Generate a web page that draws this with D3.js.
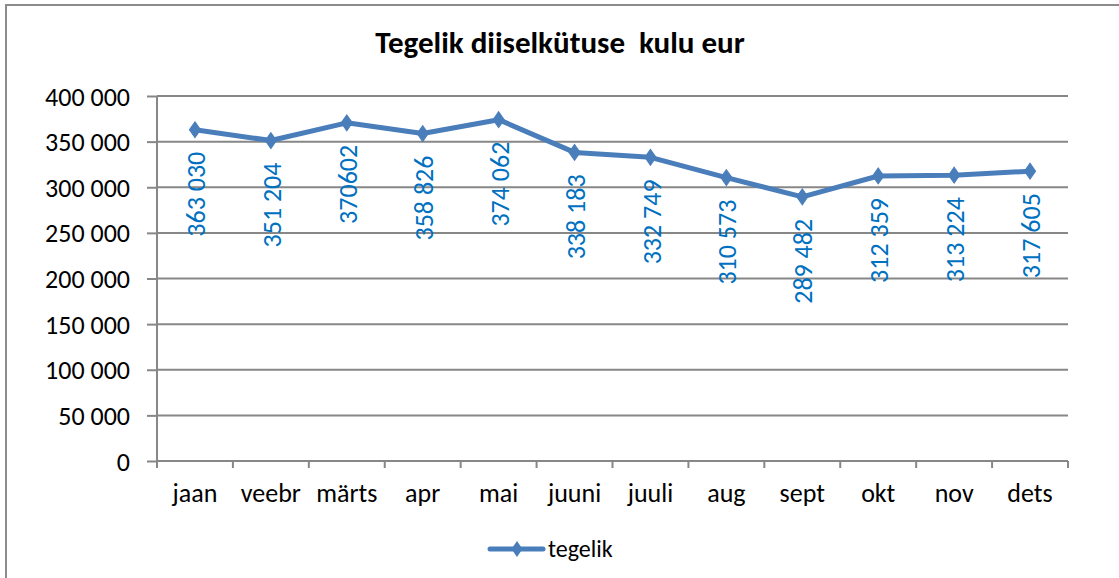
<!DOCTYPE html>
<html>
<head>
<meta charset="utf-8">
<script src="https://cdn.jsdelivr.net/npm/d3@7"></script>
<style>
html,body{margin:0;padding:0;background:#fff;}
svg{display:block;}
text{font-family:Carlito, Calibri, Lato, sans-serif;}
</style>
</head>
<body>
<svg id="chart" width="1119" height="578"></svg>
<script>
const title = "Tegelik diiselkütuse  kulu eur";
const categories = ["jaan","veebr","märts","apr","mai","juuni","juuli","aug","sept","okt","nov","dets"];
const values = [363030, 351204, 370602, 358826, 374062, 338183, 332749, 310573, 289482, 312359, 313224, 317605];
const labels = ["363 030","351 204","370602","358 826","374 062","338 183","332 749","310 573","289 482","312 359","313 224","317 605"];
const yTicks = [0,50000,100000,150000,200000,250000,300000,350000,400000];
const seriesName = "tegelik";

const svg = d3.select("#chart");
const m = {left:157, right:1068, top:96, bottom:461};
const lineColor = "#4A7EBB", gridColor = "#878787", labelColor = "#0070C0";

// outer frame
svg.append("rect").attr("x",6).attr("y",5).attr("width",1130).attr("height",600)
  .attr("fill","#fff").attr("stroke","#8c8c8c").attr("stroke-width",2);

const x = d3.scaleBand().domain(categories).range([m.left,m.right]);
const y = d3.scaleLinear().domain([0,400000]).range([m.bottom,m.top]);
const fmt = v => d3.format(",")(v).replace(/,/g," ");

// gridlines
svg.append("g").selectAll("line").data(yTicks.filter(d=>d>0)).join("line")
  .attr("x1",m.left).attr("x2",m.right)
  .attr("y1",d=>y(d)).attr("y2",d=>y(d))
  .attr("stroke",gridColor).attr("stroke-width",2);

// y axis
const yAxis = svg.append("g").attr("transform",`translate(${m.left},0)`)
  .call(d3.axisLeft(y).tickValues(yTicks).tickFormat(fmt).tickSize(10).tickPadding(17));
yAxis.select(".domain").attr("stroke",gridColor).attr("stroke-width",2)
  .attr("d",`M0,${m.top}V${m.bottom+7}`);
yAxis.selectAll(".tick line").attr("stroke",gridColor).attr("stroke-width",2);
yAxis.selectAll(".tick text").attr("font-size",26).attr("fill","#000")
  .attr("font-family","Carlito, Calibri, Lato, sans-serif").attr("dy","0.35em");

// x axis
const xAxis = svg.append("g").attr("transform",`translate(0,${m.bottom})`)
  .call(d3.axisBottom(x).tickSize(0).tickPadding(23));
xAxis.select(".domain").attr("stroke",gridColor).attr("stroke-width",2)
  .attr("d",`M${m.left},0H${m.right}`);
xAxis.selectAll(".tick text").attr("font-size",26).attr("fill","#000")
  .attr("font-family","Carlito, Calibri, Lato, sans-serif");
const bounds = categories.map(c=>x(c)).concat([m.right]);
xAxis.append("g").selectAll("line").data(bounds).join("line")
  .attr("x1",d=>d).attr("x2",d=>d).attr("y1",0).attr("y2",7)
  .attr("stroke",gridColor).attr("stroke-width",2);

const cx = c => x(c) + x.bandwidth()/2;

// line
const line = d3.line().x((d,i)=>cx(categories[i])).y(d=>y(d));
svg.append("path").datum(values).attr("d",line)
  .attr("fill","none").attr("stroke",lineColor).attr("stroke-width",5)
  .attr("stroke-linejoin","round").attr("stroke-linecap","round");

const diamond = d3.symbol().type(d3.symbolDiamond).size(80);
svg.append("g").selectAll("path").data(values).join("path")
  .attr("d",diamond)
  .attr("transform",(d,i)=>`translate(${cx(categories[i])},${y(d)}) scale(1.15,0.95)`)
  .attr("fill",lineColor).attr("stroke",lineColor).attr("stroke-width",1);

// data labels
svg.append("g").selectAll("text").data(values).join("text")
  .attr("transform",(d,i)=>`translate(${cx(categories[i])+1},${y(d)+22}) rotate(-90)`)
  .attr("text-anchor","end").attr("dy","0.35em")
  .attr("font-size",26).attr("fill",labelColor)
  .text((d,i)=>labels[i]);

// title
svg.append("text").attr("x",560).attr("y",53).attr("text-anchor","middle")
  .attr("font-size",31).attr("font-weight","bold").attr("fill","#000")
  .style("white-space","pre").text(title);

// legend
const lg = svg.append("g");
lg.append("line").attr("x1",490).attr("x2",543).attr("y1",549).attr("y2",549)
  .attr("stroke",lineColor).attr("stroke-width",5).attr("stroke-linecap","round");
lg.append("path").attr("d",diamond).attr("transform","translate(517,549) scale(1.15,0.95)").attr("fill",lineColor);
lg.append("text").attr("x",548).attr("y",549).attr("dy","0.35em")
  .attr("font-size",24).attr("fill","#000").text(seriesName);
</script>
</body>
</html>
